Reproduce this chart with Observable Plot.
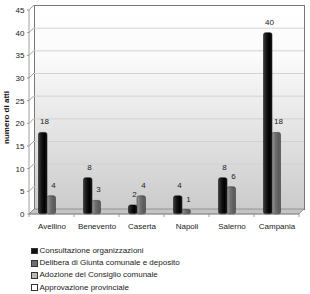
<!DOCTYPE html>
<html><head><meta charset="utf-8">
<script src="https://cdn.jsdelivr.net/npm/d3@7"></script>
<script src="https://cdn.jsdelivr.net/npm/@observablehq/plot@0.6"></script>
<style>
body{margin:0;background:#fff;font-family:"Liberation Sans",Arial,sans-serif;}
#chart svg{display:block}
#legend{margin-left:31px;margin-top:5px;font-size:8px;color:#222;line-height:1}
.item{display:flex;align-items:center;height:12.2px;white-space:nowrap}
.sw{width:6.5px;height:6.5px;border:1px solid #333;margin-right:2px;box-sizing:border-box;flex:none}
</style></head><body><div id="chart"></div><div id="legend"></div>
<script>
const categories = ["Avellino","Benevento","Caserta","Napoli","Salerno","Campania"];
const consultazione = [18,8,2,4,8,40];
const delibera = [4,3,4,1,6,18];
const seriesNames = ["Consultazione organizzazioni","Delibera di Giunta comunale e deposito","Adozione del Consiglio comunale","Approvazione provinciale"];
const seriesColors = ["#111111","#6e6e6e","#b8b8b8","#ffffff"];
const yTicks = [0,5,10,15,20,25,30,35,40,45];
const yTitle = "numero di atti";

const W = 310, H = 240, depth = 5;
const rows1 = categories.map((c,i)=>({cat:c, v:consultazione[i]}));
const rows2 = categories.map((c,i)=>({cat:c, v:delibera[i]}));
const half = (W - 29 - 11) / categories.length / 2;
const barW = 8.5;

const plot = Plot.plot({
  width: W, height: H, marginLeft: 29, marginRight: 11, marginTop: 10, marginBottom: 26,
  style: {fontFamily: "Liberation Sans, Arial, sans-serif", fontSize: "8px", color: "#222", background: "transparent", overflow: "visible"},
  x: {domain: categories, padding: 0, axis: null},
  y: {domain: [0, 45], axis: null},
  marks: [
    Plot.frame({fill: "url(#wallGrad)", stroke: "#777", dx: depth, dy: -depth}),
    Plot.gridY(yTicks.slice(1, -1), {stroke: "#d2d2d2", strokeOpacity: 1, dx: depth, dy: -depth}),
    Plot.barY(rows1, {x: "cat", y: "v", fill: "url(#gBlack)", stroke: "#000", strokeWidth: 0.5, insetLeft: half - barW, insetRight: half, dx: -4.5, rx: 2}),
    Plot.barY(rows2, {x: "cat", y: "v", fill: "url(#gGray)", stroke: "#222", strokeWidth: 0.5, insetLeft: half, insetRight: half - barW, dx: -4.5, rx: 2}),
    Plot.text(rows1, {x: "cat", y: "v", text: d => String(d.v), dx: -7.5, dy: -11, fontSize: 8, fill: "#222"}),
    Plot.text(rows2, {x: "cat", y: "v", text: d => String(d.v), dx: 1.5, dy: -11, fontSize: 8, fill: "#222"}),
    Plot.axisX({tickSize: 0, tickPadding: 9, fontSize: 8, label: null}),
    Plot.axisY(yTicks, {tickSize: 0, tickPadding: 5, fontSize: 8, label: null}),
    Plot.text([yTitle], {frameAnchor: "left", textAnchor: "middle", rotate: -90, dx: -23, dy: 5, fontWeight: "bold", fontSize: 8, fill: "#111"})
  ]
});

const svg = d3.select(plot);
const defs = svg.insert("defs", ":first-child");
const wall = defs.append("linearGradient").attr("id", "wallGrad").attr("x1", 0).attr("y1", 0).attr("x2", 0).attr("y2", 1);
wall.append("stop").attr("offset", "0").attr("stop-color", "#ffffff");
wall.append("stop").attr("offset", "0.25").attr("stop-color", "#fbfbfb");
wall.append("stop").attr("offset", "1").attr("stop-color", "#cbcbcb");
function cyl(id, stops) {
  const g = defs.append("linearGradient").attr("id", id).attr("x1", 0).attr("y1", 0).attr("x2", 1).attr("y2", 0);
  stops.forEach(([o, c]) => g.append("stop").attr("offset", o).attr("stop-color", c));
}
cyl("gBlack", [[0, "#3c3c3c"], [0.35, "#161616"], [0.7, "#000"], [1, "#1e1e1e"]]);
cyl("gGray", [[0, "#9a9a9a"], [0.4, "#707070"], [0.8, "#5a5a5a"], [1, "#666"]]);

// 3D decorations derived from scales
const ys = plot.scale("y");
const [x0, x1] = [29, W - 11];
const y0 = ys.apply(0), yTop = ys.apply(45);
const deco = svg.insert("g", "g[aria-label='bar']");
deco.append("path")
  .attr("d", `M${x0},${y0}L${x1},${y0}L${x1+depth},${y0-depth}L${x0+depth},${y0-depth}Z`)
  .attr("fill", "#c4c4c4").attr("stroke", "#888").attr("stroke-width", 0.8);
const front = svg.append("g").attr("stroke", "#888").attr("fill", "none").attr("stroke-width", 0.8);
front.append("path").attr("d", `M${x0},${yTop}L${x0},${y0}L${x1},${y0}`);
yTicks.forEach(t => {
  const y = ys.apply(t);
  front.append("path").attr("d", `M${x0-2},${y}L${x0},${y}L${x0+depth},${y-depth}`);
});
const step = (x1 - x0) / categories.length;
for (let i = 0; i <= categories.length; i++) {
  const x = x0 + i * step;
  front.append("path").attr("d", `M${x},${y0}L${x},${y0+3}`);
}
document.getElementById("chart").appendChild(plot);

const leg = d3.select("#legend");
seriesNames.forEach((n, i) => {
  const it = leg.append("div").attr("class", "item");
  it.append("div").attr("class", "sw").style("background", seriesColors[i]);
  it.append("span").text(n);
});
</script></body></html>
